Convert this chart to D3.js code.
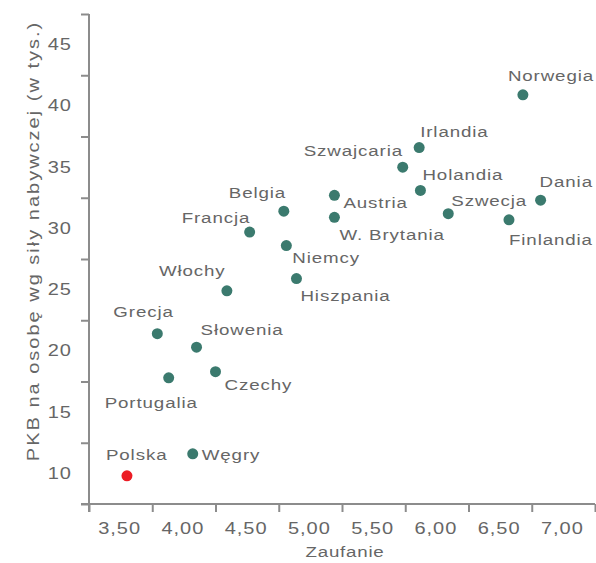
<!DOCTYPE html>
<html><head><meta charset="utf-8">
<script src="https://cdn.jsdelivr.net/npm/d3@7"></script>
<style>
body{margin:0;background:#fff;}
svg{display:block;font-family:"Liberation Sans",Arial,sans-serif;}
</style></head>
<body><svg id="c" width="596" height="563"></svg>
<script>
const countries = ["Polska","Węgry","Grecja","Słowenia","Portugalia","Czechy","Włochy","Francja","Belgia","Niemcy","Hiszpania","Austria","W. Brytania","Szwajcaria","Irlandia","Holandia","Szwecja","Dania","Finlandia","Norwegia"];
const trust = [3.55,4.07,3.79,4.10,3.88,4.25,4.34,4.52,4.79,4.81,4.89,5.19,5.19,5.73,5.86,5.87,6.09,6.82,6.57,6.68];
const gdp = [9.8,11.6,21.4,20.3,17.8,18.3,24.9,29.7,31.4,28.6,25.9,32.7,30.9,35.0,36.6,33.1,31.2,32.3,30.7,40.9];
const xTickLabels = ["3,50","4,00","4,50","5,00","5,50","6,00","6,50","7,00"];
const yTickLabels = ["10","15","20","25","30","35","40","45"];
const highlight = "Polska";

// label placement (layout only)
const labelPos = {
 "Polska":[-21,-16],"Węgry":[9,6],"Grecja":[-44,-17],"Słowenia":[4,-12],"Portugalia":[-64,30],
 "Czechy":[9,18],"Włochy":[-68,-15],"Francja":[-68,-9],"Belgia":[-55,-13],"Niemcy":[6,17],
 "Hiszpania":[4,22],"Austria":[9,13],"W. Brytania":[5,23],"Szwajcaria":[-99,-11],"Irlandia":[1,-11],
 "Holandia":[2,-10],"Szwecja":[3,-8],"Dania":[-1,-13],"Finlandia":[0,25],"Norwegia":[-15,-14]
};

const svg = d3.select("#c");
const axisCol = "#8c8c8c", textCol = "#666666";
const SX = 1.25; // wide glyphs
const tr = (px,py,rot)=>`translate(${px},${py})${rot?` rotate(${rot})`:""} scale(${SX},1)`;
const x = d3.scaleLinear().domain([3.25,7.25]).range([89,595]);
const y = d3.scaleLinear().domain([7.5,47.5]).range([504,14]);

// x axis
const xTicks = d3.range(0,9).map(i=>3.25+0.5*i);
const gx = svg.append("g").attr("transform","translate(0,504)");
gx.call(d3.axisBottom(x).tickValues(xTicks).tickSize(8).tickFormat(""));
gx.select(".domain").remove();
gx.append("line").attr("x1",81).attr("x2",595).attr("stroke",axisCol).attr("stroke-width",2);
gx.selectAll(".tick line").attr("stroke",axisCol).attr("stroke-width",2);
gx.selectAll(".xl").data(xTickLabels).join("text")
  .attr("transform",(d,i)=>tr(x(3.5+0.5*i)-1,30)).attr("text-anchor","middle")
  .attr("fill",textCol).attr("font-size",16).attr("letter-spacing",0.8).text(d=>d);

// y axis
const yTicks = d3.range(0,9).map(i=>7.5+5*i);
const gy = svg.append("g").attr("transform","translate(89,0)");
gy.call(d3.axisLeft(y).tickValues(yTicks).tickSize(8).tickFormat(""));
gy.select(".domain").remove();
gy.append("line").attr("y1",14).attr("y2",512).attr("stroke",axisCol).attr("stroke-width",2);
gy.selectAll(".tick line").attr("stroke",axisCol).attr("stroke-width",2);
gy.selectAll(".yl").data(yTickLabels).join("text")
  .attr("transform",(d,i)=>tr(-17,y(10+5*i))).attr("dy","0.35em").attr("text-anchor","end")
  .attr("fill",textCol).attr("font-size",16).attr("letter-spacing",0.8).text(d=>d);

// axis titles
svg.append("text").attr("transform",tr(345,557)).attr("text-anchor","middle")
  .attr("fill",textCol).attr("font-size",15).attr("letter-spacing",0.6).text("Zaufanie");
svg.append("text").attr("transform",tr(39,241,-90)).attr("text-anchor","middle")
  .attr("fill",textCol).attr("font-size",16).attr("letter-spacing",1.6).text("PKB na osobę wg siły nabywczej (w tys.)");

// points
const data = countries.map((c,i)=>({c,x:trust[i],y:gdp[i]}));
svg.append("g").selectAll("circle").data(data).join("circle")
  .attr("cx",d=>x(d.x)).attr("cy",d=>y(d.y)).attr("r",5.5)
  .attr("fill",d=>d.c===highlight?"#ec1c24":"#3b7a6e");
svg.append("g").selectAll("text").data(data).join("text")
  .attr("transform",d=>tr(x(d.x)+labelPos[d.c][0], y(d.y)+labelPos[d.c][1]))
  .attr("fill",textCol).attr("font-size",15).attr("letter-spacing",0.7).text(d=>d.c);
</script></body></html>
